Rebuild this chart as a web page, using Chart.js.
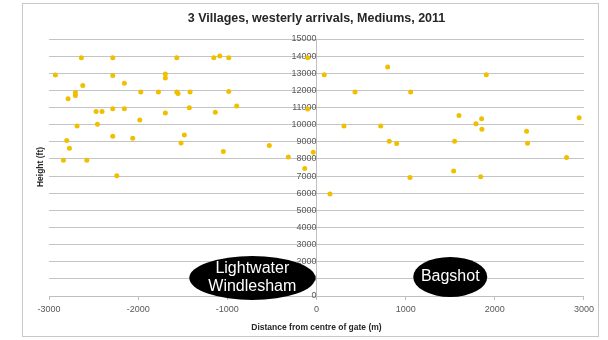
<!DOCTYPE html>
<html>
<head>
<meta charset="utf-8">
<script src="https://cdn.jsdelivr.net/npm/chart.js@4/dist/chart.umd.min.js"></script>
<style>
  body { margin: 0; background: #fff; }
  #frame { position: absolute; left: 22px; top: 3px; width: 575px; height: 332px; border: 1px solid #c8c8c8; }
</style>
</head>
<body>
<div id="frame"><canvas id="chart" width="575" height="332"></canvas></div>
<script>
// Distance from centre of gate (m) and height (ft) for each arrival
const distances = [
  -2928, -2637, -2285, -2285, -2621, -2155, -2786, -2704, -2704, -2685,
  -2801, -2771, -2838, -2576, -2472, -2405, -2457, -2285, -2155, -2285,
  -2061, -1982, -1971, -1773, -1695, -1695, -1695, -1567, -1567, -1553,
  -1418, -1426, -1482, -1519, -1152, -1085, -984, -984, -1135, -895,
  -1045, -529, -99, -99, -36, -316, -132, -2240,
  87, 798, 432, 1056, 1904, 308, 720, 816, 899, 1598,
  1549, 1788, 1852, 1855, 2356, 2367, 2946, 2805, 151, 1048,
  1538, 1841
];
const heights = [
  12900, 13900, 13900, 12870, 12290, 12420, 11510, 11880, 11700, 9920,
  9070, 8620, 7930, 7930, 10770, 10770, 10020, 10930, 10930, 9320,
  9200, 10270, 11900, 11900, 12950, 12730, 10680, 13900, 11900, 11820,
  11900, 10990, 9400, 8930, 13900, 14010, 13900, 11940, 10720, 11090,
  8430, 8780, 13900, 10910, 8390, 8110, 7440, 7020,
  12910, 13370, 11900, 11900, 12910, 9920, 9920, 9030, 8900, 10540,
  9030, 10060, 10350, 9730, 9610, 8920, 10410, 8080, 5950, 6920,
  7290, 6960
];
const xTicks = [-3000, -2000, -1000, 0, 1000, 2000, 3000];

// Village labels, placed in data units
const villages = [
  { lines: ['Lightwater', 'Windlesham'], x: -720, y: 1050, rx: 63, ry: 22 },
  { lines: ['Bagshot'], x: 1500, y: 1110, rx: 37, ry: 20 }
];

const FONT = '"Liberation Sans", Arial, sans-serif';

const villagePlugin = {
  id: 'villages',
  afterDraw(chart) {
    const ctx = chart.ctx;
    const xs = chart.scales.x, ys = chart.scales.y;
    villages.forEach(v => {
      const cx = xs.getPixelForValue(v.x);
      const cy = ys.getPixelForValue(v.y);
      ctx.save();
      ctx.fillStyle = '#000';
      ctx.beginPath();
      ctx.ellipse(cx, cy, v.rx, v.ry, 0, 0, Math.PI * 2);
      ctx.fill();
      ctx.fillStyle = '#fff';
      ctx.font = '16px ' + FONT;
      ctx.textAlign = 'center';
      ctx.textBaseline = 'middle';
      const lh = 18;
      const top = cy - (v.lines.length - 1) * lh / 2;
      v.lines.forEach((t, i) => ctx.fillText(t, cx, top + i * lh));
      ctx.restore();
    });
    // y axis title
    ctx.save();
    ctx.translate(18, 163);
    ctx.rotate(-Math.PI / 2);
    ctx.font = 'bold 8.5px ' + FONT;
    ctx.fillStyle = '#262626';
    ctx.textAlign = 'center';
    ctx.textBaseline = 'middle';
    ctx.fillText('Height (ft)', 0, 0);
    ctx.restore();
  }
};

const plain = v => String(v);

new Chart(document.getElementById('chart'), {
  type: 'scatter',
  data: {
    datasets: [{
      data: distances.map((d, i) => ({ x: d, y: heights[i] })),
      backgroundColor: '#f0c000',
      borderWidth: 0,
      pointRadius: 2.5
    }]
  },
  options: {
    responsive: false,
    animation: false,
    layout: { padding: { left: 26, right: 14, top: 0, bottom: 3 } },
    plugins: {
      legend: { display: false },
      tooltip: { enabled: false },
      title: {
        display: true,
        text: '3 Villages, westerly arrivals, Mediums, 2011',
        color: '#262626',
        font: { family: FONT, size: 12.5, weight: 'bold' },
        padding: { top: 7, bottom: 13 }
      }
    },
    scales: {
      x: {
        type: 'linear',
        min: -3000,
        max: 3000,
        afterBuildTicks: axis => { axis.ticks = xTicks.map(v => ({ value: v })); },
        ticks: { color: '#595959', font: { family: FONT, size: 9 }, padding: 4, maxRotation: 0, callback: plain },
        grid: { drawOnChartArea: false, color: '#bfbfbf', tickLength: 4 },
        border: { color: '#bfbfbf' },
        title: {
          display: true,
          text: 'Distance from centre of gate (m)',
          color: '#262626',
          font: { family: FONT, size: 8.5, weight: 'bold' },
          padding: { top: 4, bottom: 0 }
        }
      },
      y: {
        position: { x: 0 },
        min: 0,
        max: 15000,
        ticks: { stepSize: 1000, color: '#595959', font: { family: FONT, size: 9 }, padding: 2, callback: plain },
        grid: { color: '#c4c4c4', tickLength: 4 },
        border: { color: '#bfbfbf' }
      }
    }
  },
  plugins: [villagePlugin]
});
</script>
</body>
</html>
